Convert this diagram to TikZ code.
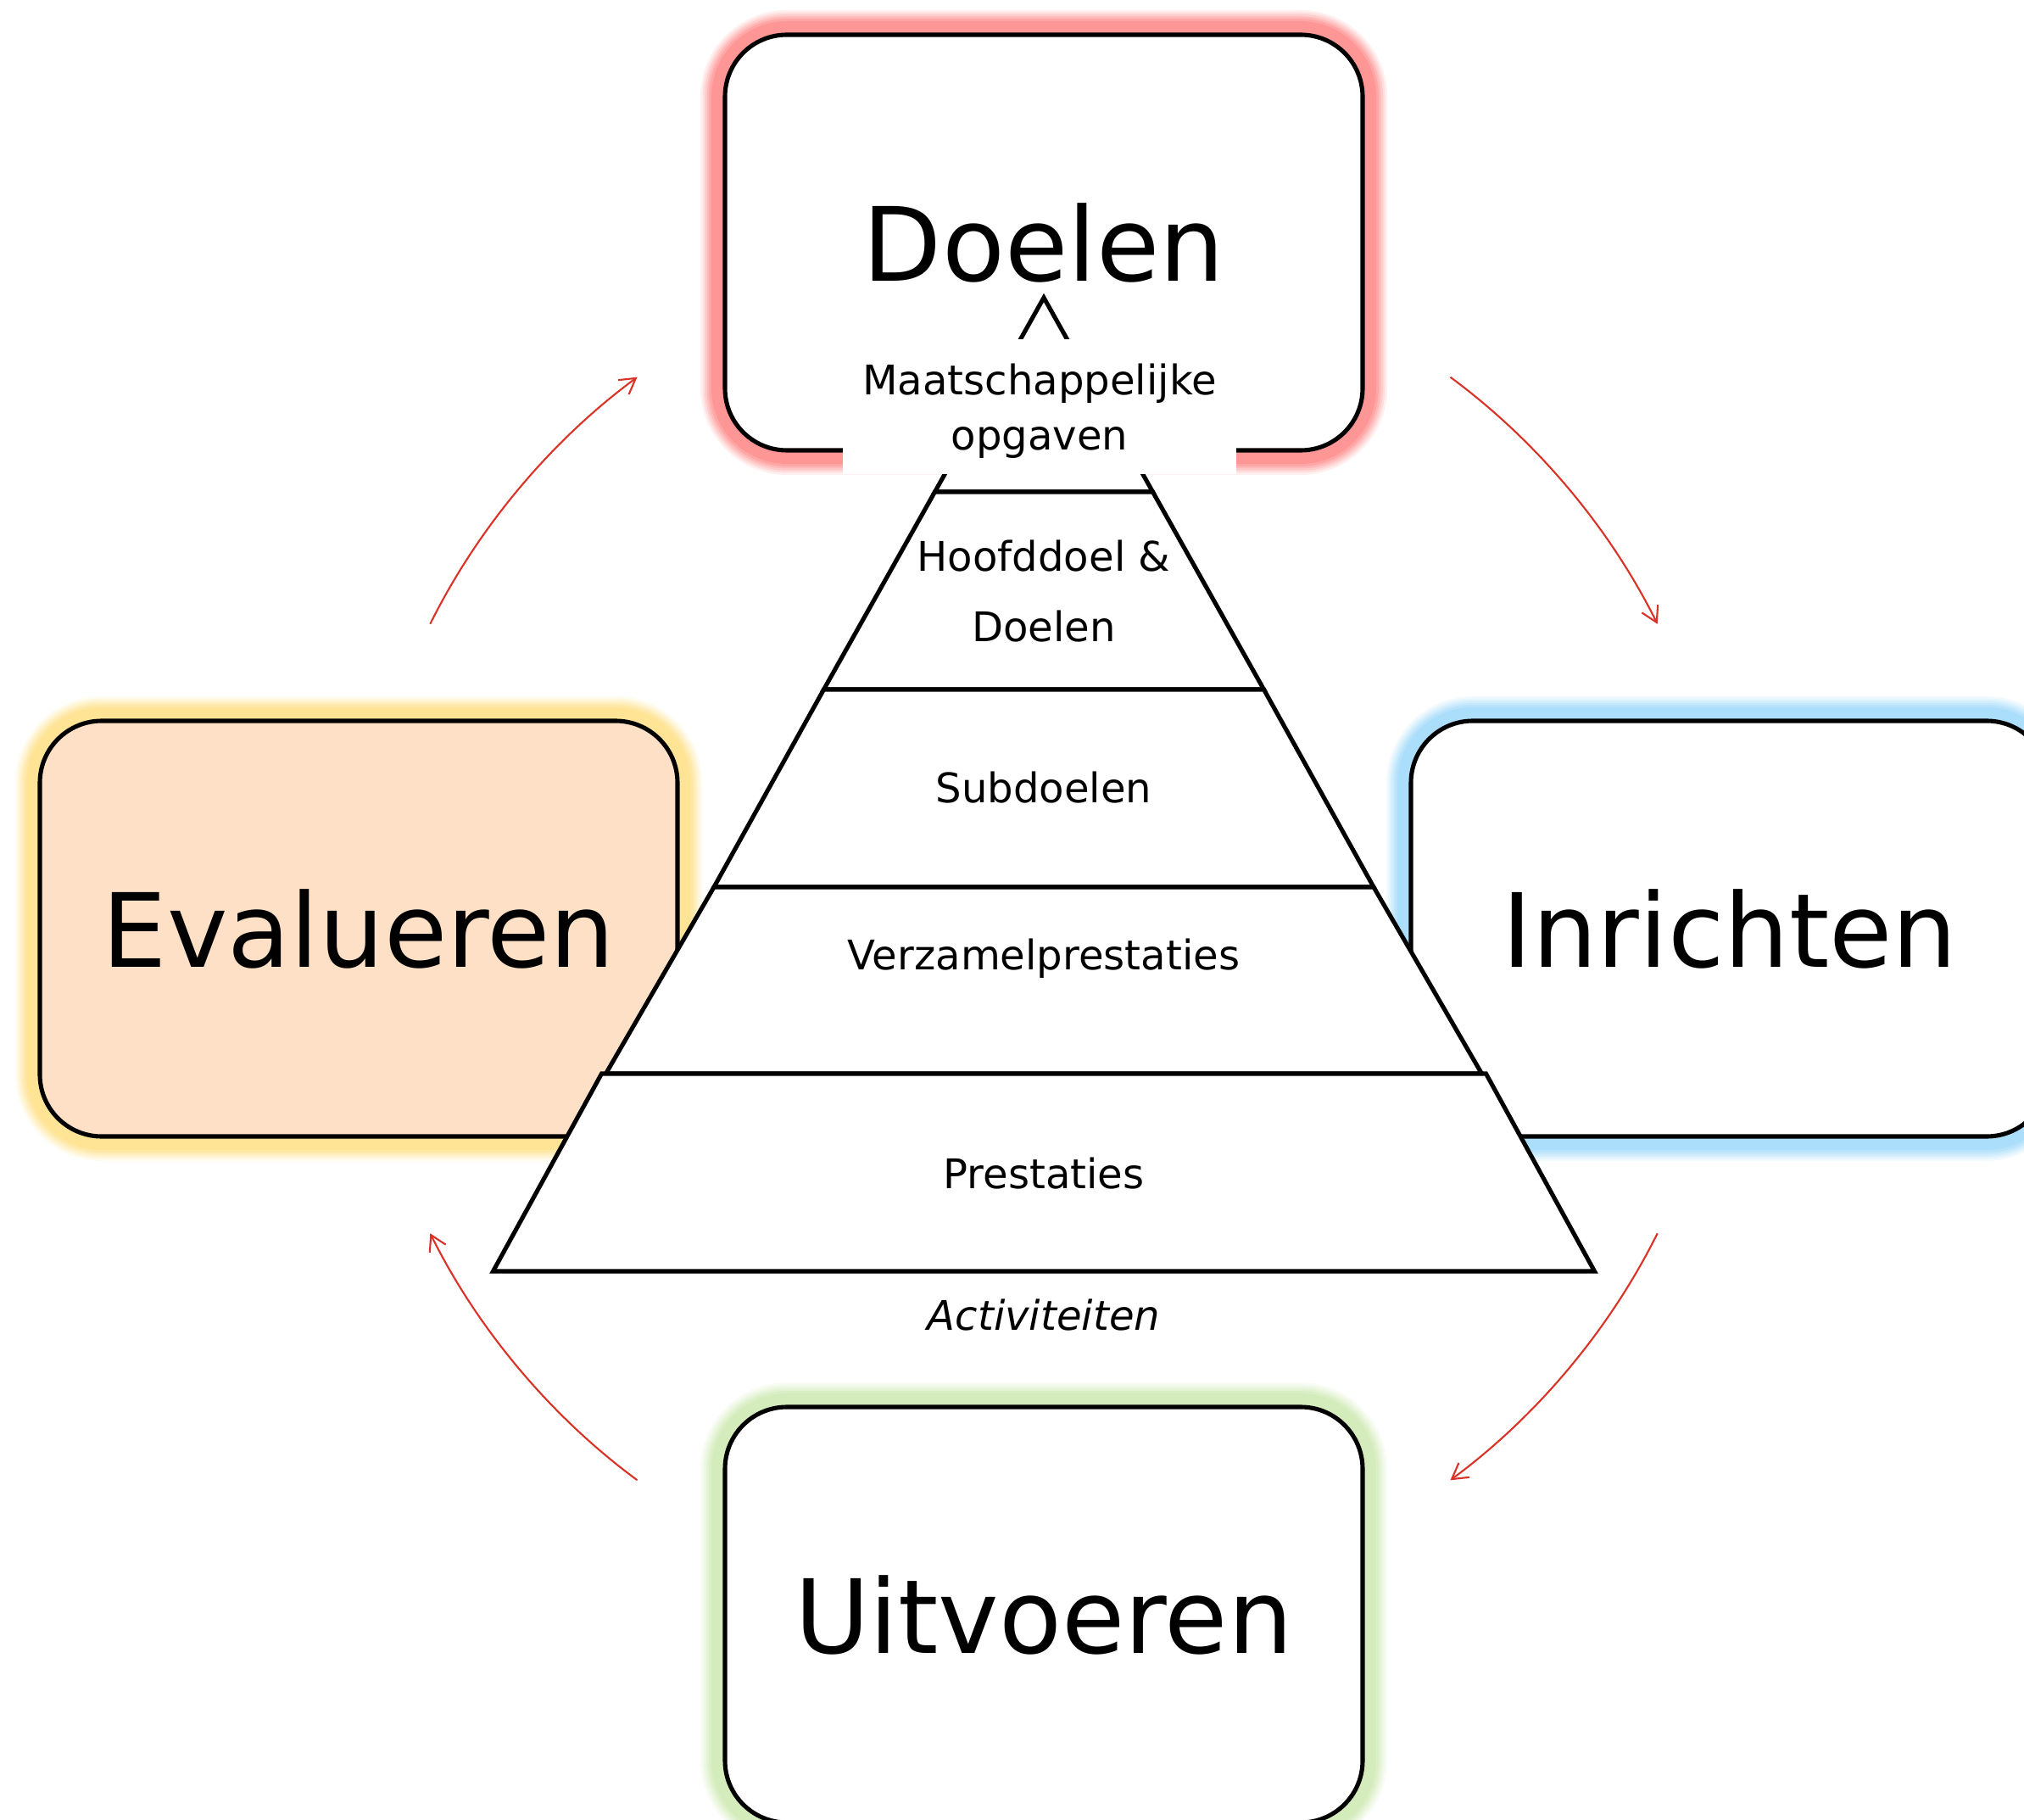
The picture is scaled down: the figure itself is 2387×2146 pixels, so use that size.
\documentclass[tikz,border=0pt]{standalone}
\usepackage{fontspec}
\setmainfont{DejaVu Sans}
\usepackage{tikz}
\usetikzlibrary{arrows.meta,calc}

\begin{document}
\begin{tikzpicture}[x=0.1mm,y=0.1mm,>={Straight Barb[length=1.8mm,width=2.1mm]},line join=miter]
%%
\definecolor{glowred}{RGB}{255,150,150};
\definecolor{glowyellow}{RGB}{255,228,150};
\definecolor{glowblue}{RGB}{170,222,250};
\definecolor{glowgreen}{RGB}{212,236,188};
\definecolor{evalfill}{RGB}{253,224,197};
\definecolor{cyclered}{RGB}{217,50,38};
\tikzset{
  glow/.style={preaction={draw=#1,draw opacity=.15,line width=5.8mm},
               preaction={draw=#1,draw opacity=.2,line width=5.3mm},
               preaction={draw=#1,draw opacity=.25,line width=4.8mm},
               preaction={draw=#1,draw opacity=.35,line width=4.3mm},
               preaction={draw=#1,draw opacity=.5,line width=3.8mm},
               preaction={draw=#1,line width=3.2mm}},
  phase/.style={draw,line width=1.45pt,rounded corners=7.3mm,fill=white,
                minimum width=75.2mm,minimum height=49mm,inner sep=0pt,
                font=\fontsize{34.4}{41}\selectfont},
  layer/.style={draw,fill=white,line width=1.45pt},
  pyrtext/.style={inner sep=0pt,font=\fontsize{13.7}{16.4}\selectfont},
  cyclearrow/.style={->,draw=cyclered,line width=0.6pt}
}
  \path[use as bounding box] (0,0) rectangle (2387,-2146);
  \node (doelen) at (1231,-286) [phase,glow=glowred] {Doelen};
  \node (evalueren) at (423,-1095) [phase,glow=glowyellow,fill=evalfill] {Evalueren};
  \node (inrichten) at (2040,-1095) [phase,glow=glowblue] {Inrichten};
  \node (uitvoeren) at (1231,-1904) [phase,glow=glowgreen] {Uitvoeren};
  % cycle
  \coordinate (hub) at (1231,-1095);
  \coordinate (evalueren-out) at ($(hub)+(153.6:808)$);
  \coordinate (doelen-in) at ($(hub)+(126.4:808)$);
  \coordinate (doelen-out) at ($(hub)+(53.6:808)$);
  \coordinate (inrichten-in) at ($(hub)+(26.4:808)$);
  \coordinate (inrichten-out) at ($(hub)+(-26.4:808)$);
  \coordinate (uitvoeren-in) at ($(hub)+(-53.6:808)$);
  \coordinate (uitvoeren-out) at ($(hub)+(-126.4:808)$);
  \coordinate (evalueren-in) at ($(hub)+(-153.6:808)$);
  \draw [cyclearrow] (evalueren-out) to[bend left=13.6,looseness=.85] (doelen-in);
  \draw [cyclearrow] (doelen-out) to[bend left=13.6,looseness=.85] (inrichten-in);
  \draw [cyclearrow] (inrichten-out) to[bend left=13.6,looseness=.85] (uitvoeren-in);
  \draw [cyclearrow] (uitvoeren-out) to[bend left=13.6,looseness=.85] (evalueren-in);
  % pyramid
  \draw [layer] (1231,-351) -- (1359.5,-580) -- (1102.5,-580) -- cycle;
  \draw [layer] (1102.5,-580) -- (1359.5,-580) -- (1490.5,-813) -- (971.5,-813) -- cycle;
  \draw [layer] (971.5,-813) -- (1490.5,-813) -- (1620,-1046) -- (842,-1046) -- cycle;
  \draw [layer] (842,-1046) -- (1620,-1046) -- (1747.5,-1266) -- (714.5,-1266) -- cycle;
  \draw [layer] (709.5,-1266) -- (1752.5,-1266) -- (1880.5,-1499) -- (581.5,-1499) -- cycle;
  \fill [white] (994,-400) rectangle (1458,-559);
  \node (opgaven) at (1226,-485) [pyrtext,align=center,font=\fontsize{13.7}{18.5}\selectfont] {Maatschappelijke\\opgaven};
  \node (hoofddoel) at (1231,-697) [pyrtext,align=center,font=\fontsize{13.7}{23.6}\selectfont] {Hoofddoel \&\\Doelen};
  \node (subdoelen) at (1231,-929) [pyrtext] {Subdoelen};
  \node (verzamel) at (1231,-1130) [pyrtext] {Verzamelprestaties};
  \node (prestaties) at (1231,-1384) [pyrtext] {Prestaties};
  \node (activiteiten) at (1231,-1551) [pyrtext,font=\fontsize{13.7}{16.4}\selectfont\itshape] {Activiteiten};
%
\end{tikzpicture}
\end{document}
